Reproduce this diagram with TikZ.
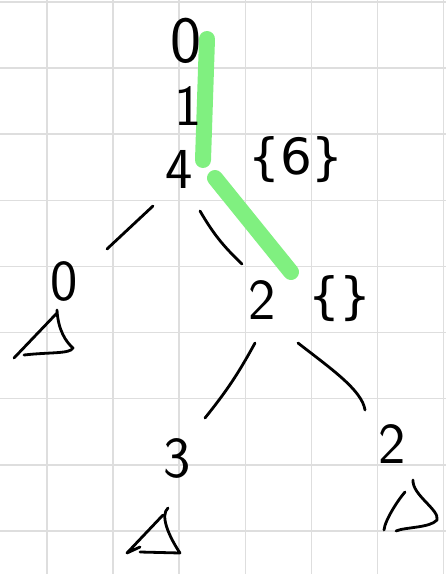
\documentclass[tikz,border=0pt]{standalone}
\usepackage{fontspec}
\setmainfont{DejaVu Sans}
\begin{document}
\begin{tikzpicture}[x=1pt,y=-1pt,
  gridline/.style={draw=black!13,line width=1.6pt},
  pen/.style={draw=black,line width=2.8pt,line cap=round,line join=round},
  hl/.style={draw={rgb,255:red,128;green,240;blue,128},line width=16pt,line cap=round},
  digit/.style={font=\fontsize{58}{58}\selectfont\sffamily,inner sep=0pt,text=black},
  label/.style={font=\fontsize{50}{50}\selectfont,inner sep=0pt,text=black}]
\useasboundingbox (0,0) rectangle (446,574);
\fill[white] (0,0) rectangle (446,574);
% grid
\foreach \x in {47,113.1,179.2,245.3,311.4,377.5,443.6}
  \draw[gridline] (\x,0) -- (\x,574);
\foreach \y in {2,68.1,134.2,200.3,266.4,332.5,398.6,464.7,530.8}
  \draw[gridline] (0,\y) -- (446,\y);
% highlight path
\coordinate (h1) at (207,39);
\coordinate (h2) at (203,160);
\coordinate (h3) at (215,178);
\coordinate (h4) at (291,272);
\draw[hl] (h1) -- (h2);
\draw[hl] (h3) -- (h4);
% nodes
\node[digit,font=\fontsize{66}{66}\selectfont\sffamily] (root) at (186,41) {0};
\node[digit] (n1lab) at (188,106) {1};
\node[digit] (n4) at (179,169) {4};
\node[label] (s6) at (296,160) {\{6\}};
\node[digit] (n0) at (64,281) {0};
\node[digit] (n2) at (262,300) {2};
\node[label] (se) at (340,299) {\{\}};
\node[digit] (n3) at (177,458) {3};
\node[digit] (n2r) at (392,444) {2};
% connectors
\coordinate (a1) at (153,206); \coordinate (a2) at (107,249);
\coordinate (b1) at (200,211); \coordinate (b2) at (242,264);
\coordinate (c1) at (255,343); \coordinate (c2) at (205,418);
\coordinate (d1) at (298,343); \coordinate (d2) at (365,410);
\draw[pen] (a1) -- (a2);
\draw[pen] (b1) to[bend right=8] (b2);
\draw[pen] (c1) to[bend left=5] (c2);
\draw[pen] (d1) .. controls (330,368) and (362,390) .. (d2);
% subtree triangles
\draw[pen] (57,310) .. controls (58,330) and (66,342) .. (73,348)
  .. controls (70,354) and (50,352) .. (24,355);
\draw[pen] (57,313) -- (14,358);
\draw[pen] (168,508) .. controls (160,515) and (168,535) .. (180,553)
  -- (140,552);
\draw[pen] (163,515) -- (127,553) -- (140,547);
\draw[pen] (413,480) .. controls (412,495) and (440,510) .. (437,520)
  .. controls (430,528) and (405,527) .. (396,531);
\draw[pen] (405,492) .. controls (398,500) and (385,520) .. (384,530);
\end{tikzpicture}
\end{document}
